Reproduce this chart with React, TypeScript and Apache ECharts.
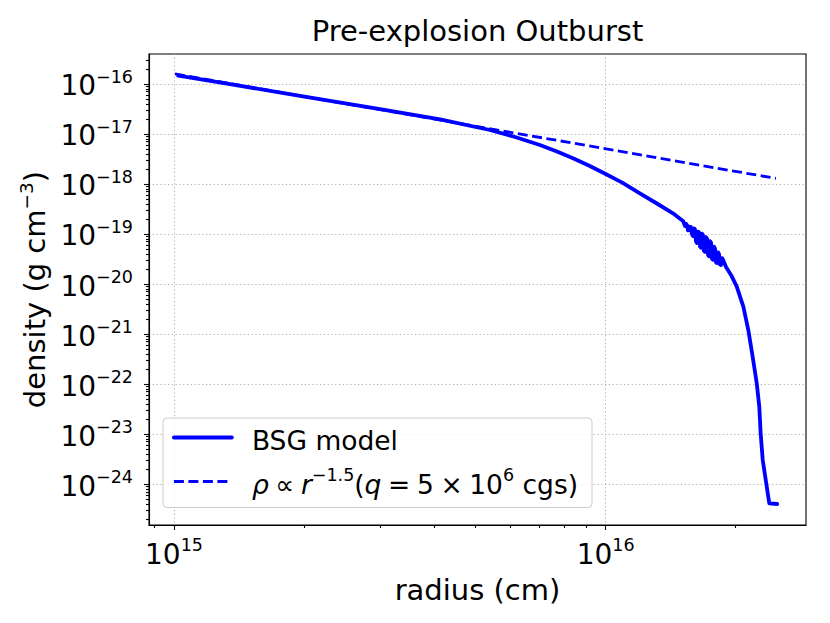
import React, { useEffect, useRef } from "react";
import * as echarts from "echarts";

// BSG model density profile (radius in cm, density in g cm^-3)
const radiusBSG = [
  1.023e15, 1.348e15, 1.958e15, 3.001e15, 4.133e15, 5.395e15, 6.168e15, 7.042e15,
  7.71e15, 8.401e15, 9.19e15, 1.0e16, 1.095e16, 1.2e16, 1.32e16, 1.432e16, 1.474e16,
  1.511e16, 1.519e16, 1.527e16, 1.535e16, 1.543e16, 1.551e16, 1.56e16, 1.568e16,
  1.576e16, 1.584e16, 1.593e16, 1.601e16, 1.61e16, 1.618e16, 1.627e16, 1.636e16,
  1.645e16, 1.654e16, 1.663e16, 1.671e16, 1.68e16, 1.689e16, 1.698e16, 1.707e16,
  1.717e16, 1.726e16, 1.735e16, 1.744e16, 1.754e16, 1.763e16, 1.773e16, 1.782e16,
  1.792e16, 1.801e16, 1.811e16, 1.821e16, 1.83e16, 1.84e16, 1.85e16, 1.86e16,
  1.87e16, 1.9e16, 1.953e16,
  2.012e16, 2.084e16, 2.14e16, 2.187e16, 2.238e16, 2.269e16, 2.286e16, 2.311e16,
  2.393e16, 2.497e16,
];
const densityBSG = [
  1.466e-16, 9.91e-17, 5.81e-17, 3.16e-17, 1.968e-17, 1.202e-17, 8.71e-18, 6.03e-18,
  4.45e-18, 3.266e-18, 2.29e-18, 1.585e-18, 1.05e-18, 6.52e-19, 3.98e-19, 2.594e-19, 2.14e-19,
  1.82e-19, 1.62e-19, 1.45e-19, 1.6e-19, 1.5e-19, 1.18e-19, 1.4e-19, 1.2e-19,
  1.38e-19, 1.0e-19, 9.1e-20, 1.3e-19, 1.25e-19, 7.2e-20, 6.6e-20, 1.12e-19,
  1.08e-19, 5.6e-20, 5.3e-20, 1.02e-19, 9.5e-20, 4.6e-20, 4.4e-20, 8.7e-20,
  8.1e-20, 3.8e-20, 3.6e-20, 7.2e-20, 6.7e-20, 3.2e-20, 3.05e-20, 5.6e-20,
  5.1e-20, 2.7e-20, 2.62e-20, 4.3e-20, 4.0e-20, 2.45e-20, 2.4e-20, 3.3e-20,
  3.05e-20, 2.19e-20, 1.5e-20,
  8.83e-21, 3.52e-21, 1.2e-21, 3.8e-22, 1.05e-22, 3.52e-23, 1.01e-23, 3.02e-24,
  4.11e-25, 3.98e-25,
];

// rho ∝ r^-1.5 reference line (end points)
const radiusFit = [1.005e15, 2.48e16];
const densityFit = [1.585e-16, 1.294e-18];

// Axis ranges
const X_MIN = 8.752e14;
const X_MAX = 2.911e16;
const Y_MIN = 1.514e-25;
const Y_MAX = 3.98e-16;

// Ticks
const xMajorTicks = [1e15, 1e16];
const yMajorTicks = [1e-24, 1e-23, 1e-22, 1e-21, 1e-20, 1e-19, 1e-18, 1e-17, 1e-16];
const xMinorTicks = [9e14, 2e15, 3e15, 4e15, 5e15, 6e15, 7e15, 8e15, 9e15, 2e16];
const minorMultipliers = [2, 3, 4, 5, 6, 7, 8, 9];
const yMinorDecades = [-25, -24, -23, -22, -21, -20, -19, -18, -17, -16];
const yMinorTicks: number[] = [];
yMinorDecades.forEach((d) =>
  minorMultipliers.forEach((m) => {
    const v = Number(m + "e" + d);
    if (v > Y_MIN && v < Y_MAX) yMinorTicks.push(v);
  })
);

const TITLE = "Pre-explosion Outburst";
const X_NAME = "radius (cm)";
const SERIES_BSG = "BSG model";
const SERIES_FIT = "rho-fit";

const FONT = "DejaVu Sans";
const FS = 29; // title / axis names
const FT = 28; // tick labels
const FL = 26.5; // legend

const expText = (v: number) => {
  const e = Math.round(Math.log10(v));
  return e < 0 ? "\u2212" + String(-e) : String(e);
};
const powLabel = (v: number) => "{b|10}{s|" + expText(v) + "}";

const richTick = {
  b: { fontSize: FT, fontFamily: FONT, color: "#000", lineHeight: 32, verticalAlign: "bottom" },
  s: { fontSize: 17.5, fontFamily: FONT, color: "#000", lineHeight: 20, verticalAlign: "top" },
};
const richName = {
  a: { fontSize: FS, fontFamily: FONT, color: "#000", lineHeight: 33, verticalAlign: "bottom" },
  s: { fontSize: 18.5, fontFamily: FONT, color: "#000", lineHeight: 20, verticalAlign: "top" },
};
const richLegend = {
  g: { width: 15, fontSize: FL, lineHeight: 32 },
  a: { fontSize: FL, fontFamily: FONT, color: "#000", lineHeight: 32, verticalAlign: "bottom" },
  i: { fontSize: FL, fontFamily: FONT, fontStyle: "italic", color: "#000", lineHeight: 32, verticalAlign: "bottom" },
  s: { fontSize: 17.5, fontFamily: FONT, color: "#000", lineHeight: 20, verticalAlign: "top" },
};

const GRID = { left: 149, top: 54, width: 657, height: 471 };
const gridLine = { color: "#b0b0b0", width: 1, type: [1.2, 2.6] as number[] };
const black = { color: "#000", width: 1.1 };

export default function App() {
  const ref = useRef<HTMLDivElement>(null);
  useEffect(() => {
    if (!ref.current) return;
    const chart = echarts.init(ref.current, undefined, { renderer: "svg" });
    const sp = "\u2005";
    const option: any = {
      animation: false,
      backgroundColor: "#fff",
      title: {
        text: TITLE,
        left: GRID.left + GRID.width / 2,
        top: 16,
        padding: 0,
        textAlign: "center",
        textStyle: { fontSize: FS, fontWeight: "normal", color: "#000", fontFamily: FONT },
      },
      grid: [
        { ...GRID, show: true, borderColor: "#000", borderWidth: 1.1, backgroundColor: "transparent" },
        { ...GRID, show: false },
      ],
      legend: {
        orient: "vertical",
        left: 163,
        top: 418,
        padding: [6, 14, 10, 9],
        itemGap: 12,
        itemWidth: 58,
        itemHeight: 1,
        selectedMode: false,
        backgroundColor: "rgba(255,255,255,0.8)",
        borderColor: "#cccccc",
        borderWidth: 1,
        borderRadius: 4,
        lineStyle: { width: "inherit", type: "inherit" },
        data: [SERIES_BSG, SERIES_FIT],
        formatter: (name: string) =>
          name === SERIES_BSG
            ? "{g| }{a|BSG model}"
            : "{g| }{i|\u03c1}{a|" + sp + "\u221d" + sp + "}{i|r}{s|\u22121.5}{a|(}{i|q}{a|" +
              sp + "=" + sp + "5" + sp + "\u00d7" + sp + "10}{s|6}{a| cgs)}",
        textStyle: { fontSize: FL, fontFamily: FONT, color: "#000", rich: richLegend },
      },
      xAxis: [
        {
          type: "log",
          logBase: 10,
          gridIndex: 0,
          min: X_MIN,
          max: X_MAX,
          name: X_NAME,
          nameLocation: "middle",
          nameGap: 31,
          nameTextStyle: { fontSize: FS, fontFamily: FONT, color: "#000", lineHeight: 34 },
          axisLine: { show: true, lineStyle: black },
          axisTick: { show: true, customValues: xMajorTicks, length: 5, lineStyle: black },
          axisLabel: {
            customValues: xMajorTicks,
            formatter: powLabel,
            margin: 11,
            rich: richTick,
          },
          splitLine: { show: true, lineStyle: gridLine },
          minorTick: { show: false },
        },
        {
          type: "log",
          logBase: 10,
          gridIndex: 1,
          min: X_MIN,
          max: X_MAX,
          axisLine: { show: false },
          axisTick: { show: true, customValues: xMinorTicks, length: 3, lineStyle: black },
          axisLabel: { show: false },
          splitLine: { show: false },
        },
      ],
      yAxis: [
        {
          type: "log",
          logBase: 10,
          gridIndex: 0,
          min: Y_MIN,
          max: Y_MAX,
          name: "{a|density (g cm}{s|\u22123}{a|)}",
          nameLocation: "middle",
          nameGap: 86,
          nameTextStyle: { fontSize: FS, fontFamily: FONT, color: "#000", rich: richName },
          axisLine: { show: true, lineStyle: black },
          axisTick: { show: true, customValues: yMajorTicks, length: 5, lineStyle: black },
          axisLabel: {
            customValues: yMajorTicks,
            formatter: powLabel,
            margin: 16,
            rich: richTick,
          },
          splitLine: { show: true, lineStyle: gridLine },
          minorTick: { show: false },
        },
        {
          type: "log",
          logBase: 10,
          gridIndex: 1,
          min: Y_MIN,
          max: Y_MAX,
          axisLine: { show: false },
          axisTick: { show: true, customValues: yMinorTicks, length: 3, lineStyle: black },
          axisLabel: { show: false },
          splitLine: { show: false },
        },
      ],
      series: [
        {
          name: SERIES_BSG,
          type: "line",
          xAxisIndex: 0,
          yAxisIndex: 0,
          symbol: "none",
          data: radiusBSG.map((r, i) => [r, densityBSG[i]]),
          lineStyle: { color: "#0000ff", width: 3.8, cap: "round", join: "round" },
          itemStyle: { color: "#0000ff" },
          z: 3,
        },
        {
          name: SERIES_FIT,
          type: "line",
          xAxisIndex: 0,
          yAxisIndex: 0,
          symbol: "none",
          data: radiusFit.map((r, i) => [r, densityFit[i]]),
          lineStyle: { color: "#0000ff", width: 2.8, type: [10, 4.5] },
          itemStyle: { color: "#0000ff" },
          z: 2,
        },
      ],
    };
    chart.setOption(option);
    return () => chart.dispose();
  }, []);
  return (
    <div
      ref={ref}
      style={{ position: "fixed", left: 0, top: 0, width: 830, height: 623, background: "#fff" }}
    />
  );
}
